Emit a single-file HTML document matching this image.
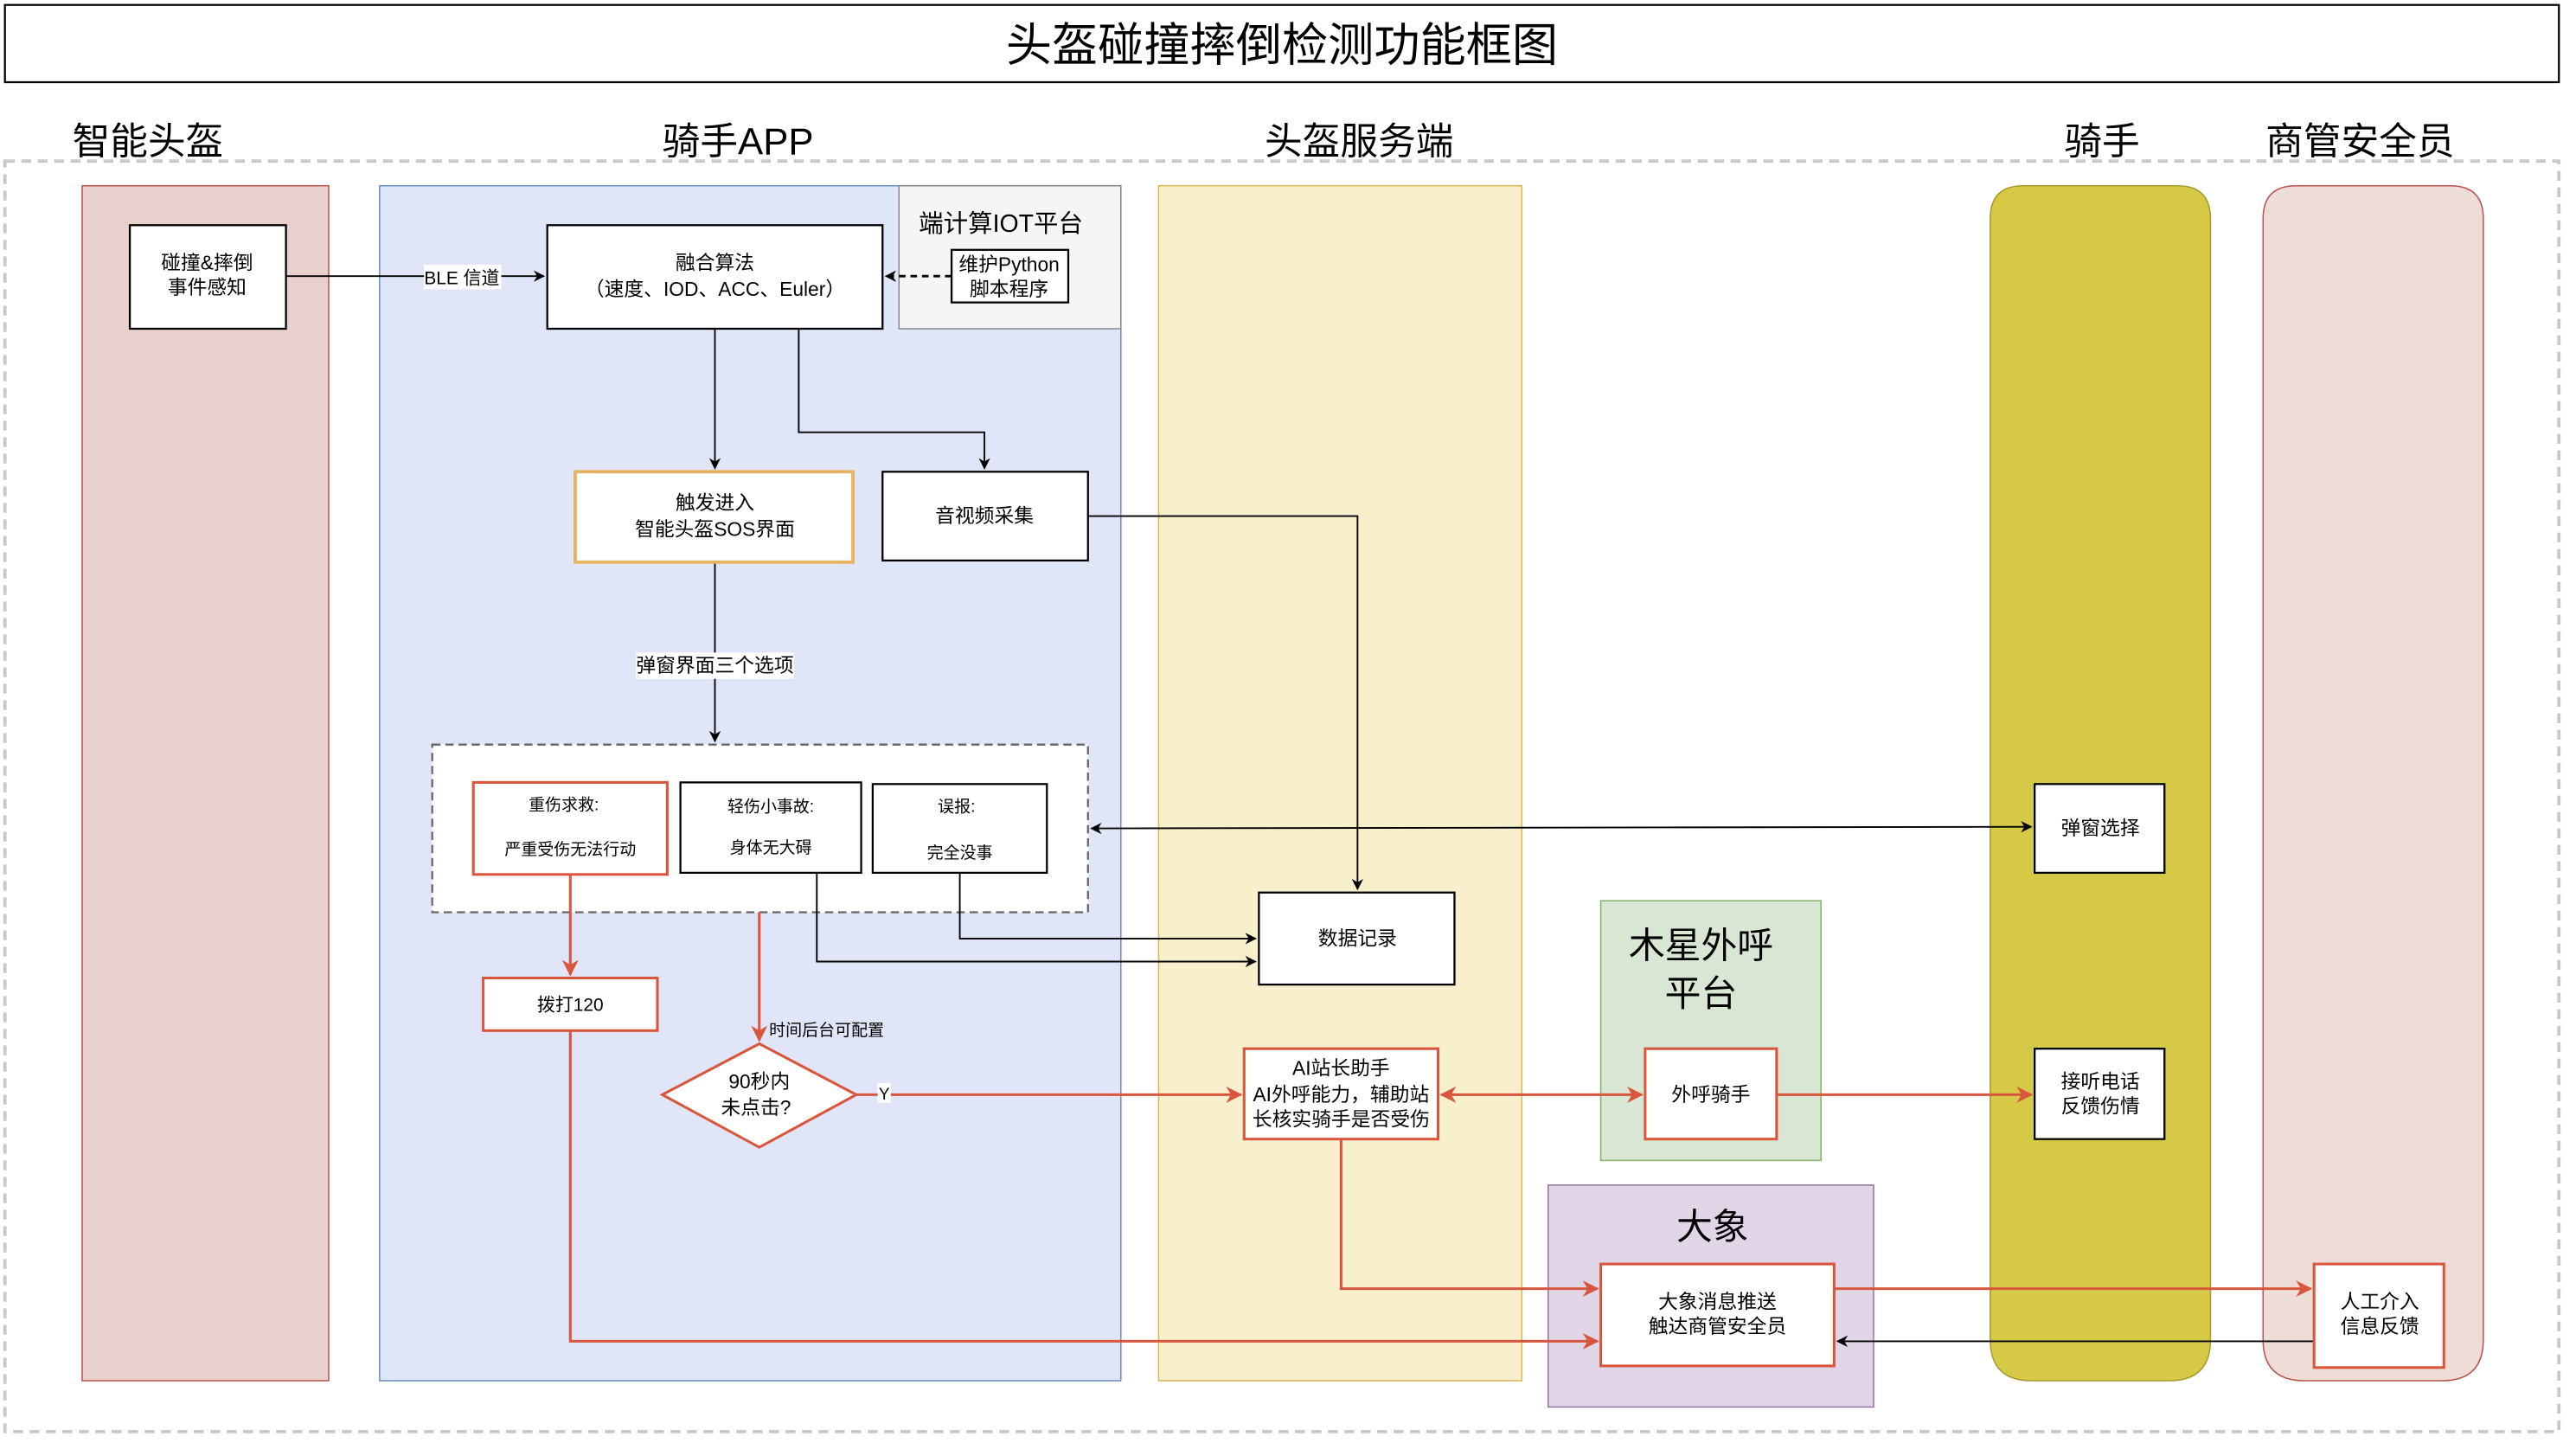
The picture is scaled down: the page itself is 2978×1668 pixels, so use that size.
<!DOCTYPE html>
<html><head><meta charset="utf-8"><style>
html,body{margin:0;padding:0;background:#fff}
svg{display:block}
text{font-family:"Liberation Sans","Noto Sans CJK SC",sans-serif;fill:#000}
</style></head><body>
<svg width="2978" height="1668" viewBox="0 0 1567.4 877.9" preserveAspectRatio="none" xmlns="http://www.w3.org/2000/svg">
<defs>
<marker id="ab" viewBox="0 0 10 10" refX="9" refY="5" markerWidth="7" markerHeight="7" orient="auto-start-reverse" markerUnits="userSpaceOnUse"><path d="M0,0 L10,5 L0,10 L3,5 z" fill="#000"/></marker>
<marker id="ar" viewBox="0 0 10 10" refX="9" refY="5" markerWidth="10" markerHeight="10" orient="auto-start-reverse" markerUnits="userSpaceOnUse"><path d="M0,0 L10,5 L0,10 L3,5 z" fill="#d9553c"/></marker>
</defs>
<!-- title -->
<rect x="3" y="3" width="1554" height="47" fill="#fff" stroke="#000" stroke-width="1.2"/>
<text x="780" y="37" font-size="28" text-anchor="middle">头盔碰撞摔倒检测功能框图</text>
<!-- outer dashed -->
<rect x="3" y="98" width="1554" height="773" fill="none" stroke="#c8c8c8" stroke-width="2" stroke-dasharray="6,4"/>
<g font-size="23" text-anchor="middle">
<text x="90" y="94">智能头盔</text>
<text x="449" y="94">骑手APP</text>
<text x="827" y="94">头盔服务端</text>
<text x="1279" y="94">骑手</text>
<text x="1436" y="94">商管安全员</text>
</g>
<!-- lanes -->
<rect x="50" y="113" width="150" height="727" fill="#e8d1cc" stroke="#b85450" stroke-width="0.8"/>
<rect x="231" y="113" width="451" height="727" fill="#e0e6f8" stroke="#6c8ebf" stroke-width="0.8"/>
<rect x="547" y="113" width="135" height="87" fill="#f5f5f5" stroke="#888" stroke-width="0.8"/>
<rect x="705" y="113" width="221" height="727" fill="#f8f0cd" stroke="#d6b656" stroke-width="0.8"/>
<path d="M1211,133 Q1211,113 1231,113 L1325,113 Q1345,113 1345,133 L1345,815 Q1345,840 1320,840 L1236,840 Q1211,840 1211,815 Z" fill="#d5c946" stroke="#a89c30" stroke-width="0.8"/>
<path d="M1377,133 Q1377,113 1397,113 L1491,113 Q1511,113 1511,133 L1511,815 Q1511,840 1486,840 L1402,840 Q1377,840 1377,815 Z" fill="#eedcd6" stroke="#b85450" stroke-width="0.8"/>
<rect x="974" y="548" width="134" height="158" fill="#dae6d4" stroke="#82b366" stroke-width="0.8"/>
<rect x="942" y="721" width="198" height="135" fill="#e0d6e8" stroke="#9673a6" stroke-width="0.8"/>
<text x="609" y="141" font-size="15" text-anchor="middle">端计算IOT平台</text>
<text x="1035" y="583" font-size="22" text-anchor="middle">木星外呼</text>
<text x="1035" y="612" font-size="22" text-anchor="middle">平台</text>
<text x="1042" y="754" font-size="22" text-anchor="middle">大象</text>
<!-- dashed inner box -->
<rect x="263" y="453" width="399" height="102" fill="#fff" stroke="#666" stroke-width="1.2" stroke-dasharray="5,3"/>
<!-- black connectors -->
<g stroke="#000" stroke-width="1" fill="none">
<path d="M174,168 L331,168" marker-end="url(#ab)"/>
<path d="M579,168 L539,168" stroke-dasharray="4,3" stroke-width="1.5" marker-end="url(#ab)"/>
<path d="M435,200 L435,285" marker-end="url(#ab)"/>
<path d="M486,200 L486,263 L599,263 L599,285" marker-end="url(#ab)"/>
<path d="M662,314 L826,314 L826,541" marker-end="url(#ab)"/>
<path d="M435,342 L435,451" marker-end="url(#ab)"/>
<path d="M664,504 L1236,503" marker-start="url(#ab)" marker-end="url(#ab)"/>
<path d="M497,531 L497,585 L764,585" marker-end="url(#ab)"/>
<path d="M584,531 L584,571 L764,571" marker-end="url(#ab)"/>
<path d="M1408,816 L1118,816" marker-end="url(#ab)"/>
</g>
<rect x="258" y="161" width="47" height="15" fill="#fff"/>
<text x="281" y="173" font-size="11" text-anchor="middle">BLE 信道</text>
<rect x="387" y="397" width="96" height="16" fill="#fff"/>
<text x="435" y="409" font-size="12" text-anchor="middle">弹窗界面三个选项</text>
<!-- red connectors -->
<g stroke="#d9553c" stroke-width="1.6" fill="none">
<path d="M347,532 L347,593" marker-end="url(#ar)"/>
<path d="M462,555 L462,633" marker-end="url(#ar)"/>
<path d="M521,666 L755,666" marker-end="url(#ar)"/>
<path d="M877,666 L999,666" marker-start="url(#ar)" marker-end="url(#ar)"/>
<path d="M1081,666 L1236,666" marker-end="url(#ar)"/>
<path d="M816,693 L816,784 L972,784" marker-end="url(#ar)"/>
<path d="M347,627 L347,816 L972,816" marker-end="url(#ar)"/>
<path d="M1116,784 L1406,784" marker-end="url(#ar)"/>
</g>
<text x="468" y="630" font-size="10">时间后台可配置</text>
<rect x="534" y="659" width="8" height="12" fill="#fff"/>
<text x="538" y="669" font-size="10" text-anchor="middle">Y</text>
<!-- boxes -->
<g stroke-width="1.2">
<rect x="79" y="137" width="95" height="63" fill="#fff" stroke="#000"/>
<rect x="333" y="137" width="204" height="63" fill="#fff" stroke="#000"/>
<rect x="579" y="152" width="71" height="32" fill="#fff" stroke="#000"/>
<rect x="350" y="287" width="169" height="55" fill="#fff" stroke="#e6b35e" stroke-width="2"/>
<rect x="537" y="287" width="125" height="54" fill="#fff" stroke="#000"/>
<rect x="288" y="476" width="118" height="56" fill="#fff" stroke="#d9553c" stroke-width="1.6"/>
<rect x="414" y="476" width="110" height="55" fill="#fff" stroke="#000"/>
<rect x="531" y="477" width="106" height="54" fill="#fff" stroke="#000"/>
<rect x="294" y="595" width="106" height="32" fill="#fff" stroke="#d9553c" stroke-width="1.6"/>
<path d="M462,635 L521,666 L462,698 L403,666 Z" fill="#fff" stroke="#d9553c" stroke-width="1.6"/>
<rect x="766" y="543" width="119" height="56" fill="#fff" stroke="#000"/>
<rect x="757" y="638" width="118" height="55" fill="#fff" stroke="#d9553c" stroke-width="1.6"/>
<rect x="1001" y="638" width="80" height="55" fill="#fff" stroke="#d9553c" stroke-width="1.6"/>
<rect x="1238" y="477" width="79" height="54" fill="#fff" stroke="#000"/>
<rect x="1238" y="638" width="79" height="55" fill="#fff" stroke="#000"/>
<rect x="974" y="769" width="142" height="62" fill="#fff" stroke="#d9553c" stroke-width="1.6"/>
<rect x="1408" y="769" width="79" height="63" fill="#fff" stroke="#d9553c" stroke-width="1.6"/>
</g>
<g font-size="12" text-anchor="middle">
<text x="126" y="164">碰撞&amp;摔倒</text>
<text x="126" y="179">事件感知</text>
<text x="435" y="164">融合算法</text>
<text x="435" y="180">（速度、IOD、ACC、Euler）</text>
<text x="614" y="165">维护Python</text>
<text x="614" y="180">脚本程序</text>
<text x="435" y="310">触发进入</text>
<text x="435" y="326">智能头盔SOS界面</text>
<text x="599" y="318">音视频采集</text>
<text x="343" y="493" font-size="10">重伤求救:</text>
<text x="347" y="520" font-size="10">严重受伤无法行动</text>
<text x="469" y="494" font-size="10">轻伤小事故:</text>
<text x="469" y="519" font-size="10">身体无大碍</text>
<text x="582" y="494" font-size="10">误报:</text>
<text x="584" y="522" font-size="10">完全没事</text>
<text x="347" y="615" font-size="11">拨打120</text>
<text x="462" y="662">90秒内</text>
<text x="460" y="678">未点击?</text>
<text x="826" y="575">数据记录</text>
<text x="816" y="654">AI站长助手</text>
<text x="816" y="670">AI外呼能力，辅助站</text>
<text x="816" y="685">长核实骑手是否受伤</text>
<text x="1041" y="670">外呼骑手</text>
<text x="1278" y="508">弹窗选择</text>
<text x="1278" y="662">接听电话</text>
<text x="1278" y="677">反馈伤情</text>
<text x="1045" y="796">大象消息推送</text>
<text x="1045" y="811">触达商管安全员</text>
<text x="1448" y="796">人工介入</text>
<text x="1448" y="811">信息反馈</text>
</g>
</svg>
</body></html>
